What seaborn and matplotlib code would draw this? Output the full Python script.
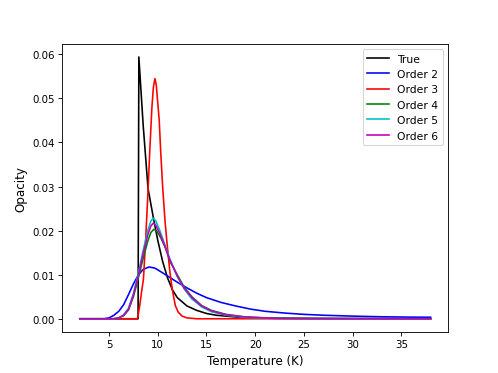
import pandas as pd
import seaborn as sns
import matplotlib.pyplot as plt

# values (temperature in K, opacity)
true_x = [2, 7.98, 8.06, 8.5, 9.0, 9.5, 10.0, 10.5, 11.0, 11.5, 12.0, 13.0, 14.0, 15.0,
          16.0, 18.0, 20.0, 25.0, 30.0, 38.0]
true_y = [0, 0, 0.0594, 0.0440, 0.0296, 0.0235, 0.0178, 0.0130, 0.0093, 0.0066, 0.0048,
          0.0029, 0.0019, 0.0012, 0.0008, 0.0004, 0.0002, 0.0001, 0.00005, 0.00002]

o2_x = [2, 4.5, 5.0, 5.5, 6.0, 6.5, 7.0, 7.5, 8.0, 8.5, 9.1, 9.7, 10.3, 11.0, 12.0, 13.0,
        14.0, 15.0, 16.5, 18.0, 19.5, 21.0, 23.0, 25.0, 27.0, 30.0, 33.0, 36.0, 38.0]
o2_y = [0, 0, 0.0002, 0.0008, 0.0017, 0.0032, 0.0055, 0.0079, 0.0099, 0.0112, 0.01175,
        0.0115, 0.0107, 0.0097, 0.0083, 0.0070, 0.0058, 0.0048, 0.0037, 0.0029, 0.0022,
        0.0017, 0.0013, 0.0010, 0.0008, 0.0006, 0.00045, 0.00037, 0.00034]

o3_x = [2, 7.92, 8.15, 8.3, 8.53, 8.75, 9.0, 9.2, 9.4, 9.55, 9.71, 9.85, 10.0, 10.15, 10.3,
        10.5, 10.75, 11.0, 11.25, 11.5, 11.8, 12.1, 12.5, 13.0, 14.0, 38.0]
o3_y = [0, 0, 0.003, 0.0055, 0.009, 0.0175, 0.029, 0.039, 0.048, 0.0525, 0.0545, 0.053,
        0.049, 0.045, 0.038, 0.030, 0.022, 0.016, 0.0105, 0.0065, 0.003, 0.0015, 0.0006,
        0.0002, 0, 0]

o4_x = [2, 5.5, 6.0, 6.5, 7.0, 7.5, 8.0, 8.5, 9.0, 9.3, 9.6, 9.9, 10.3, 10.8, 11.3, 12.0,
        12.7, 13.5, 14.5, 15.5, 17.0, 19.0, 22.0, 26.0, 38.0]
o4_y = [0, 0, 0.0002, 0.0007, 0.0020, 0.0050, 0.0092, 0.0137, 0.0178, 0.0196, 0.0203,
        0.0199, 0.0184, 0.0160, 0.0128, 0.0100, 0.0072, 0.0050, 0.0030, 0.0019, 0.0010,
        0.0004, 0.0001, 0.00003, 0]

o5_x = [2, 5.5, 6.0, 6.5, 7.0, 7.5, 8.0, 8.5, 9.0, 9.3, 9.55, 9.8, 10.2, 10.7, 11.2, 12.0,
        12.7, 13.5, 14.5, 15.5, 17.0, 19.0, 22.0, 26.0, 38.0]
o5_y = [0, 0, 0.0002, 0.0009, 0.0024, 0.0057, 0.0103, 0.0155, 0.0202, 0.0222, 0.0228,
        0.0222, 0.0201, 0.0170, 0.0138, 0.0096, 0.0068, 0.0045, 0.0027, 0.0016, 0.0008,
        0.0003, 0.0001, 0.00002, 0]

o6_x = o5_x
o6_y = [0, 0, 0.0002, 0.0008, 0.0022, 0.0054, 0.0098, 0.0148, 0.0192, 0.0211, 0.0217,
        0.0212, 0.0194, 0.0166, 0.0136, 0.0097, 0.0070, 0.0048, 0.0029, 0.0018, 0.0009,
        0.0004, 0.0001, 0.00003, 0]

labels = ['True', 'Order 2', 'Order 3', 'Order 4', 'Order 5', 'Order 6']
colors = ['k', 'b', 'r', 'g', 'c', 'm']
series = [(true_x, true_y), (o2_x, o2_y), (o3_x, o3_y),
          (o4_x, o4_y), (o5_x, o5_y), (o6_x, o6_y)]

fig, ax = plt.subplots(figsize=(498 / 77.8, 374 / 77.8), dpi=77.8)

for (xs, ys), lab, col in zip(series, labels, colors):
    df = pd.DataFrame({'T': xs, 'opacity': ys})
    sns.lineplot(x='T', y='opacity', data=df, color=col, label=lab, linewidth=1.5, ax=ax)

ax.set_xlabel('Temperature (K)', fontsize=11)
ax.set_ylabel('Opacity', fontsize=11)
ax.tick_params(labelsize=9.5)
ax.legend(loc='upper right', fontsize=10)

fig.savefig('out.png', dpi=77.8)
